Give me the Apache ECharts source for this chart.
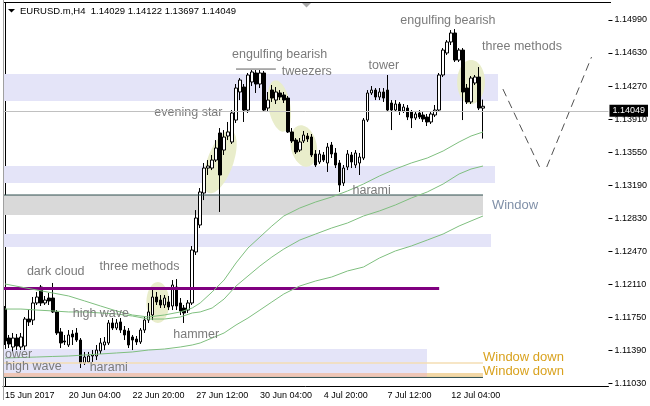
<!DOCTYPE html>
<html><head><meta charset="utf-8">
<script src="https://cdn.jsdelivr.net/npm/echarts@6/dist/echarts.min.js"></script>
<style>html,body{margin:0;padding:0;background:#fff}#c{width:650px;height:406px}</style>
</head><body><div id="c"></div>
<script>
// ---------- data ----------
const tickBars = [0,16,32,48,64,80,96,112];
const tickLabels = ['15 Jun 2017','20 Jun 04:00','22 Jun 20:00','27 Jun 12:00','30 Jun 04:00','4 Jul 20:00','7 Jul 12:00','12 Jul 04:00'];
const yTicks = [1.1103,1.1139,1.1175,1.1211,1.1247,1.1283,1.1319,1.1355,1.1391,1.1427,1.1463,1.1499];
const lastPrice = 1.14049;

const open = [1.11839,1.11523,1.11425,1.11523,1.11425,1.11436,1.11730,1.11719,1.11905,1.12079,
1.11905,1.11959,1.11959,1.11807,1.11589,1.11491,1.11447,1.11567,1.11578,1.11501,
1.11251,1.11262,1.11327,1.11327,1.11382,1.11447,1.11469,1.11687,1.11632,1.11698,
1.11610,1.11600,1.11534,1.11512,1.11480,1.11610,1.11719,1.11774,1.11970,1.11937,
1.11883,1.11916,1.11872,1.12079,1.11905,1.11850,1.11828,1.11905,1.12461,1.12755,
1.13104,1.13376,1.13376,1.13463,1.13758,1.13572,1.13725,1.13660,1.13899,1.14205,
1.14259,1.14008,1.14314,1.14412,1.14292,1.14412,1.14030,1.14226,1.14117,1.14194,
1.14172,1.14139,1.13769,1.13681,1.13572,1.13671,1.13725,1.13714,1.13529,1.13442,
1.13518,1.13431,1.13627,1.13540,1.13431,1.13213,1.13387,1.13518,1.13409,1.13431,
1.13485,1.13899,1.14194,1.14226,1.14150,1.14205,1.14226,1.14085,1.14008,1.14074,
1.13998,1.14030,1.13987,1.13921,1.13976,1.13954,1.13932,1.13878,1.13954,1.14008,
1.14390,1.14630,1.14750,1.14848,1.14553,1.14662,1.14248,1.14096,1.14303,1.14368,
1.14029];
const close = [1.11491,1.11458,1.11523,1.11436,1.11534,1.11730,1.11698,1.11905,1.11970,1.11905,
1.11937,1.11927,1.11807,1.11578,1.11469,1.11480,1.11556,1.11534,1.11501,1.11251,
1.11316,1.11327,1.11338,1.11392,1.11469,1.11480,1.11687,1.11632,1.11687,1.11610,
1.11556,1.11447,1.11501,1.11480,1.11610,1.11719,1.11807,1.11970,1.11916,1.11883,
1.11959,1.11861,1.12101,1.11872,1.11818,1.11796,1.11905,1.12482,1.12831,1.13115,
1.13376,1.13398,1.13463,1.13594,1.13300,1.13714,1.13769,1.13976,1.14248,1.14335,
1.14008,1.14390,1.14423,1.14292,1.14412,1.14008,1.14117,1.14139,1.14205,1.14150,
1.14117,1.13769,1.13671,1.13551,1.13660,1.13736,1.13692,1.13518,1.13409,1.13529,
1.13463,1.13605,1.13529,1.13409,1.13191,1.13376,1.13529,1.13442,1.13540,1.13496,
1.13899,1.14194,1.14226,1.14150,1.14205,1.14139,1.14008,1.14008,1.14074,1.13998,
1.14041,1.13932,1.13921,1.13965,1.13932,1.13910,1.13878,1.13965,1.14008,1.14390,
1.14662,1.14750,1.14848,1.14553,1.14662,1.14205,1.14096,1.14357,1.14368,1.14030,
1.14049];
const high = [1.11872,1.11556,1.11578,1.11567,1.11578,1.11752,1.11828,1.11970,1.12025,1.12101,
1.11981,1.12014,1.12123,1.11828,1.11632,1.11556,1.11610,1.11610,1.11632,1.11523,
1.11371,1.11371,1.11392,1.11447,1.11523,1.11534,1.11719,1.11741,1.11730,1.11741,
1.11654,1.11632,1.11556,1.11545,1.11632,1.11763,1.11905,1.12079,1.12025,1.11992,
1.11992,1.11981,1.12155,1.12166,1.11959,1.11883,1.11937,1.12526,1.12918,1.13158,
1.13431,1.13463,1.13518,1.13681,1.13812,1.13790,1.13878,1.14008,1.14292,1.14357,
1.14292,1.14412,1.14444,1.14444,1.14444,1.14434,1.14205,1.14281,1.14259,1.14226,
1.14205,1.14161,1.13812,1.13703,1.13703,1.13780,1.13758,1.13747,1.13572,1.13572,
1.13551,1.13649,1.13660,1.13594,1.13463,1.13409,1.13572,1.13551,1.13572,1.13540,
1.13921,1.14226,1.14270,1.14248,1.14248,1.14248,1.14390,1.14117,1.14117,1.14096,
1.14074,1.14063,1.14008,1.13998,1.14008,1.13987,1.13965,1.13987,1.14063,1.14412,
1.14684,1.14771,1.14880,1.14891,1.14684,1.14684,1.14292,1.14379,1.14390,1.14477,
1.14122];
const low = [1.11447,1.11414,1.11371,1.11392,1.11392,1.11392,1.11654,1.11665,1.11883,1.11872,
1.11883,1.11883,1.11796,1.11556,1.11414,1.11447,1.11425,1.11447,1.11480,1.11196,
1.11229,1.11251,1.11262,1.11283,1.11349,1.11392,1.11447,1.11610,1.11610,1.11578,
1.11501,1.11414,1.11392,1.11447,1.11458,1.11578,1.11687,1.11719,1.11883,1.11850,
1.11850,1.11828,1.11828,1.11828,1.11774,1.11687,1.11796,1.11883,1.12428,1.12722,
1.13027,1.13300,1.13354,1.13442,1.12897,1.13518,1.13681,1.13638,1.13867,1.14117,
1.13878,1.13976,1.14270,1.14194,1.14248,1.13987,1.13987,1.14096,1.14074,1.14117,
1.14085,1.13758,1.13649,1.13529,1.13551,1.13649,1.13660,1.13496,1.13387,1.13420,
1.13442,1.13333,1.13485,1.13376,1.13115,1.13180,1.13354,1.13376,1.13376,1.13300,
1.13463,1.13878,1.14172,1.14117,1.14117,1.14096,1.13987,1.13790,1.13987,1.13954,
1.13976,1.13899,1.13812,1.13899,1.13910,1.13878,1.13834,1.13856,1.13932,1.13987,
1.14368,1.14608,1.14717,1.14532,1.14532,1.13899,1.14074,1.14074,1.14281,1.14008,
1.13697];

// moving averages (read at these bar indices)
const maBars = [0,4,8,12,16,20,24,28,32,36,40,44,47,49,52,55,58,61,64,67,70,74,78,82,86,90,94,98,102,106,110,114,117,120];
const maFast = [1.12112,1.12079,1.12046,1.12014,1.11981,1.11927,1.11872,1.11818,1.11774,1.11752,1.11774,1.11807,1.11850,1.11905,1.12025,1.12155,1.12341,1.12504,1.12624,1.12744,1.12853,1.12940,1.13006,1.13060,1.13126,1.13202,1.13289,1.13365,1.13431,1.13485,1.13562,1.13660,1.13725,1.13769];
const maMid = [1.11839,1.11839,1.11828,1.11818,1.11807,1.11807,1.11796,1.11785,1.11763,1.11730,1.11730,1.11752,1.11796,1.11807,1.11850,1.11948,1.12090,1.12199,1.12308,1.12406,1.12493,1.12591,1.12657,1.12722,1.12777,1.12853,1.12908,1.12973,1.13049,1.13115,1.13202,1.13311,1.13365,1.13398];
const maSlow = [1.11305,1.11311,1.11316,1.11322,1.11327,1.11338,1.11349,1.11360,1.11371,1.11392,1.11403,1.11425,1.11447,1.11469,1.11523,1.11578,1.11665,1.11741,1.11828,1.11916,1.12003,1.12090,1.12145,1.12188,1.12254,1.12297,1.12395,1.12472,1.12526,1.12591,1.12657,1.12744,1.12799,1.12853];

// zones (bar range, price range)
const zoneFrom = [-0.5,-0.5,-0.5,-0.5,-0.5,-0.5,-0.5];
const zoneTo   = [123.75,123,120,122,106,120,106];
const zoneHi   = [1.14401,1.13398,1.13082,1.12657,1.11403,1.11142,1.11142];
const zoneLo   = [1.14107,1.13213,1.12864,1.12515,1.11142,1.11098,1.11098];
const zoneKind = ['lav','lav','gray','lav','lav','wheat','salmon'];

// horizontal levels
const segFrom  = [-0.5,-0.5,-0.5,-0.5,58];
const segTo    = [109,120,120,120,68];
const segPrice = [1.12063,1.13082,1.11251,1.11093,1.14455];
const segKind  = ['purple','dark','wheatLine','dark','under'];

// pattern ellipses
const ellBar   = [54,68.875,75,38.375,117];
const ellPrice = [1.13442,1.14052,1.13616,1.11910,1.14314];
const ellHalfBars  = [3.25,2.75,3.25,2.875,3.5];
const ellHalfPrice = [0.0036,0.00283,0.00229,0.00223,0.0024];
const ellTilt  = [20,-10,-12,0,0];

// projection
const projABars = [125,134.2], projA = [1.14237,1.13387];
const projBBars = [136,147.25], projB = [1.13387,1.14586];

// labels
const labelText  = ['dark cloud','three methods','high wave','hammer','ower','high wave','harami','evening star','engulfing bearish','tweezers','tower','engulfing bearish','three methods','harami','Window','Window down','Window down'];
const labelBar   = [5.5,23.75,17,42.25,0,0.1,21.25,37.5,57,69.5,91.25,99.25,119.75,87.25,122.25,120,120];
const labelPrice = [1.12243,1.12297,1.11785,1.11556,1.11338,1.11207,1.11196,1.13976,1.14608,1.14423,1.14488,1.14979,1.14695,1.13126,1.12973,1.11316,1.11164];

// ---------- styles ----------
const FONT = '"Liberation Sans", Arial, sans-serif';
const zoneColor = {lav:'#e4e4f8', gray:'#d9d9d9', wheat:'#f3d8a6', salmon:'#eec6b6'};
const segStyle = {purple:{stroke:'#800080',lineWidth:3}, dark:{stroke:'#2f4f4f',lineWidth:1}, wheatLine:{stroke:'#f5deb3',lineWidth:1.5}, under:{stroke:'#606060',lineWidth:1}};
function labelStyle(t){
  if (t === 'Window down') return {fill:'#d9a21f', font:'13px '+FONT};
  if (t === 'Window') return {fill:'#8090a8', font:'13px '+FONT};
  return {fill:'#7b7b7b', font:'12.5px '+FONT};
}

const N = 152;
const cats = Array.from({length:N}, (_, i) => String(i));
const tickLabelOf = {};
tickBars.forEach((b, k) => { tickLabelOf[b] = tickLabels[k]; });
const candleData = open.map((o, i) => [o, close[i], low[i], high[i]]);

const chart = echarts.init(document.getElementById('c'));
const option = {
  animation: false,
  grid: {left: 3, right: 39, top: 3, bottom: 20},
  xAxis: [
    {type: 'category', data: cats, boundaryGap: true,
     axisLine: {lineStyle: {color: '#000', width: 1}},
     axisTick: {alignWithLabel: true, length: 4, interval: (i) => tickLabelOf[i] !== undefined, lineStyle: {color: '#000'}},
     axisLabel: {interval: (i) => tickLabelOf[i] !== undefined, formatter: (v) => tickLabelOf[+v] || '',
                 align: 'left', margin: 5, fontSize: 9, color: '#000', fontFamily: FONT},
     splitLine: {show: false}},
    {type: 'value', min: -0.5, max: N - 0.5, show: false}
  ],
  yAxis: {type: 'value', position: 'right', min: 1.11, max: 1.15175, scale: true,
    splitLine: {show: false},
    axisLine: {show: true, lineStyle: {color: '#000'}},
    axisTick: {show: false},
    axisLabel: {customValues: yTicks, formatter: (v) => v.toFixed(5), fontSize: 9, color: '#000', margin: 6, fontFamily: FONT}},
  series: [
    {type: 'custom', name: 'zones', xAxisIndex: 1, z: 1, clip: true, silent: true,
     data: zoneFrom.map((f, i) => [f, zoneTo[i], zoneHi[i], zoneLo[i]]),
     renderItem: (params, api) => {
       const a = api.coord([api.value(0), api.value(2)]);
       const b = api.coord([api.value(1), api.value(3)]);
       return {type: 'rect', shape: {x: Math.round(a[0]), y: Math.round(a[1]), width: Math.round(b[0]) - Math.round(a[0]), height: Math.round(b[1]) - Math.round(a[1])},
               style: {fill: zoneColor[zoneKind[params.dataIndex]]}};
     }},
    {type: 'custom', name: 'ellipses', xAxisIndex: 1, z: 1, clip: true, silent: true,
     data: ellBar.map((b, i) => [b, ellPrice[i], ellHalfBars[i], ellHalfPrice[i]]),
     renderItem: (params, api) => {
       const c = api.coord([api.value(0), api.value(1)]);
       const s = api.size([api.value(2), api.value(3)]);
       const th = ellTilt[params.dataIndex] * Math.PI / 180;
       const pts = [];
       for (let k = 0; k < 60; k++) {
         const t = k / 60 * Math.PI * 2;
         const x = s[0] * Math.cos(t), y = s[1] * Math.sin(t);
         pts.push([c[0] + x * Math.cos(th) - y * Math.sin(th), c[1] + x * Math.sin(th) + y * Math.cos(th)]);
       }
       return {type: 'polygon', shape: {points: pts}, style: {fill: '#e9edcb'}};
     }},
    {type: 'candlestick', name: 'EURUSD', xAxisIndex: 0, z: 2, barWidth: 3,
     data: candleData,
     itemStyle: {color: '#ffffff', color0: '#000000', borderColor: '#000000', borderColor0: '#000000', borderWidth: 1},
     markLine: {symbol: ['none', 'none'], silent: true, animation: false,
       data: [{yAxis: lastPrice}],
       lineStyle: {color: '#c0c0c0', type: 'solid', width: 1},
       label: {position: 'end', formatter: lastPrice.toFixed(5), backgroundColor: '#000', color: '#fff',
               padding: [2, 3, 1, 3], fontSize: 9, fontFamily: FONT, distance: 1},
       emphasis: {disabled: true}}},
    {type: 'line', name: 'MA fast', xAxisIndex: 1, z: 3, symbol: 'none', silent: true,
     data: maBars.map((b, i) => [b, maFast[i]]), lineStyle: {color: '#7fbf7f', width: 1}},
    {type: 'line', name: 'MA mid', xAxisIndex: 1, z: 3, symbol: 'none', silent: true,
     data: maBars.map((b, i) => [b, maMid[i]]), lineStyle: {color: '#7fbf7f', width: 1}},
    {type: 'line', name: 'MA slow', xAxisIndex: 1, z: 3, symbol: 'none', silent: true,
     data: maBars.map((b, i) => [b, maSlow[i]]), lineStyle: {color: '#7fbf7f', width: 1}},
    {type: 'custom', name: 'levels', xAxisIndex: 1, z: 3, clip: true, silent: true,
     data: segFrom.map((f, i) => [f, segTo[i], segPrice[i]]),
     renderItem: (params, api) => {
       const a = api.coord([api.value(0), api.value(2)]);
       const b = api.coord([api.value(1), api.value(2)]);
       const st = segStyle[segKind[params.dataIndex]];
       return {type: 'line', shape: {x1: a[0], y1: a[1], x2: b[0], y2: b[1]}, style: {stroke: st.stroke, lineWidth: st.lineWidth}};
     }},
    {type: 'custom', name: 'priceTicks', xAxisIndex: 1, z: 3, clip: false, silent: true,
     data: yTicks.map((v) => [0, v]),
     renderItem: (params, api) => {
       const p = api.coord([0, api.value(1)]);
       const xr = params.coordSys.x + params.coordSys.width;
       const y = Math.round(p[1]) + 0.5;
       return {type: 'line', shape: {x1: xr, y1: y, x2: xr + 4, y2: y}, style: {stroke: '#000', lineWidth: 1}};
     }},
    {type: 'line', name: 'proj A', xAxisIndex: 1, z: 3, symbol: 'none', silent: true,
     data: projABars.map((b, i) => [b, projA[i]]), lineStyle: {color: '#505050', width: 1, type: [8, 5]}},
    {type: 'line', name: 'proj B', xAxisIndex: 1, z: 3, symbol: 'none', silent: true,
     data: projBBars.map((b, i) => [b, projB[i]]), lineStyle: {color: '#505050', width: 1, type: [8, 5]}},
    {type: 'custom', name: 'labels', xAxisIndex: 1, z: 4, clip: true, silent: true,
     data: labelBar.map((b, i) => [b, labelPrice[i]]),
     renderItem: (params, api) => {
       const c = api.coord([api.value(0), api.value(1)]);
       const t = labelText[params.dataIndex];
       const ls = labelStyle(t);
       return {type: 'text', x: c[0], y: c[1], style: {text: t, fill: ls.fill, font: ls.font, align: 'left', verticalAlign: 'middle'}};
     }}
  ],
  graphic: [
    {type: 'line', z: 100, shape: {x1: 3, y1: 2.5, x2: 611, y2: 2.5}, style: {stroke: '#000', lineWidth: 1}},
    {type: 'line', z: 100, shape: {x1: 3.5, y1: 0, x2: 3.5, y2: 400}, style: {stroke: '#a0a0a0', lineWidth: 1}},
    {type: 'polygon', z: 100, shape: {points: [[8, 9], [15, 9], [11.5, 12.5]]}, style: {fill: '#000'}},
    {type: 'polygon', z: 100, shape: {points: [[302, 3], [311, 3], [306.5, 7.5]]}, style: {fill: '#a9a9a9'}},
    {type: 'text', z: 100, x: 20, y: 11, style: {text: 'EURUSD.m,H4  1.14029 1.14122 1.13697 1.14049', font: '9.5px ' + FONT, fill: '#000', verticalAlign: 'middle'}}
  ]
};
chart.setOption(option);
</script>
</body></html>
